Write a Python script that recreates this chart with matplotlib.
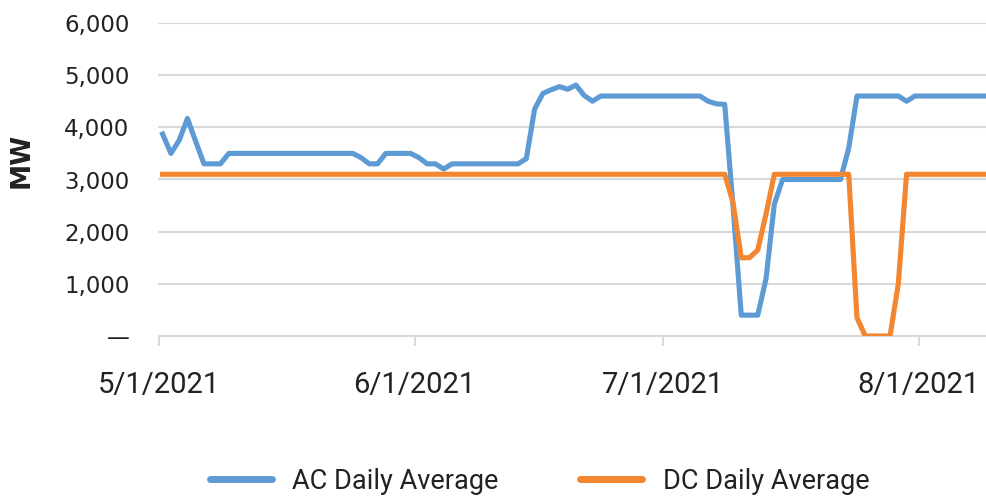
import matplotlib
matplotlib.use("Agg")
import matplotlib.pyplot as plt
import pandas as pd
from matplotlib import font_manager
from matplotlib.lines import Line2D
from matplotlib.ticker import FuncFormatter

# ---------------- data ----------------
dates = pd.date_range("2021-05-01", periods=101, freq="D")

ac_mw = ([3870, 3500, 3750, 4170, 3730, 3300, 3300, 3300]
         + [3500] * 16
         + [3420, 3300, 3300]
         + [3500] * 4
         + [3420, 3300, 3300, 3200]
         + [3300] * 9
         + [3400, 4350, 4650, 4720, 4780, 4730, 4810, 4610, 4500]
         + [4600] * 13
         + [4500, 4450, 4440, 2500, 400, 400, 400, 1100, 2530]
         + [3000] * 8
         + [3600]
         + [4600] * 6
         + [4500]
         + [4600] * 10)

dc_mw = ([3100] * 69
         + [2560, 1500, 1500, 1650, 2340]
         + [3100] * 10
         + [350, 0, 0, 0, 0, 1000]
         + [3100] * 11)

series_names = ["AC Daily Average", "DC Daily Average"]
x_tick_dates = ["2021-05-01", "2021-06-01", "2021-07-01", "2021-08-01"]
x_tick_labels = ["5/1/2021", "6/1/2021", "7/1/2021", "8/1/2021"]
y_ticks = [0, 1000, 2000, 3000, 4000, 5000, 6000]
y_label = "MW"

# ---------------- style ----------------
AC_COLOR = "#5E9BD5"
DC_COLOR = "#F38630"
GRID = "#D9D9D9"
TEXT = "#222222"

names = {f.name for f in font_manager.fontManager.ttflist}
if "Liberation Sans Narrow" in names:
    cond_family, xt_size, lg_size = "Liberation Sans Narrow", 25, 23.5
else:
    cond_family, xt_size, lg_size = "Roboto", 21, 19.5

W, H = 987, 498
fig = plt.figure(figsize=(W / 100, H / 100), dpi=100)
left, right, top, bottom = 158.5, 987, 23, 336
ax = fig.add_axes([left / W, 1 - bottom / H, (right - left) / W, (bottom - top) / H])

xpos = dates + pd.Timedelta(hours=12)
ax.plot(xpos, ac_mw, color=AC_COLOR, lw=3.7, solid_joinstyle="round", zorder=3)
ax.plot(xpos, dc_mw, color=DC_COLOR, lw=3.7, solid_joinstyle="round", zorder=4)

start = pd.Timestamp("2021-05-01")
ax.set_xlim(start, start + pd.Timedelta(days=100.23))
ax.set_ylim(0, 6000)

ax.set_yticks(y_ticks)
ax.yaxis.set_major_formatter(FuncFormatter(lambda v, p: "\u2014" if v == 0 else f"{int(v):,}"))
ax.tick_params(axis="y", length=0, pad=21, labelsize=16.5, labelcolor=TEXT)
for lab in ax.get_yticklabels():
    lab.set_family("DejaVu Sans")

ax.set_xticks(pd.to_datetime(x_tick_dates))
ax.set_xticklabels(x_tick_labels, family=cond_family, fontsize=xt_size, color=TEXT)
ax.tick_params(axis="x", length=7, width=1.5, color=GRID, pad=18)

ax.grid(axis="y", color=GRID, lw=1.5)
ax.set_axisbelow(True)
for s in ["top", "right", "left"]:
    ax.spines[s].set_visible(False)
ax.spines["bottom"].set_color(GRID)
ax.spines["bottom"].set_linewidth(1.5)

fig.text(22 / W, 1 - 160 / H, y_label, rotation=90, ha="center", va="center",
         fontsize=19, fontweight="bold", family="DejaVu Sans", color=TEXT)

handles = [Line2D([], [], color=AC_COLOR, lw=5, solid_capstyle="round"),
           Line2D([], [], color=DC_COLOR, lw=5, solid_capstyle="round")]
fig.legend(handles, series_names, loc="center", bbox_to_anchor=(539.5 / W, 1 - 481 / H),
           ncol=2, frameon=False, handlelength=2.3, handletextpad=0.75, columnspacing=3.0,
           prop={"family": cond_family, "size": lg_size}, labelcolor=TEXT)

fig.savefig("out.png", dpi=100)
